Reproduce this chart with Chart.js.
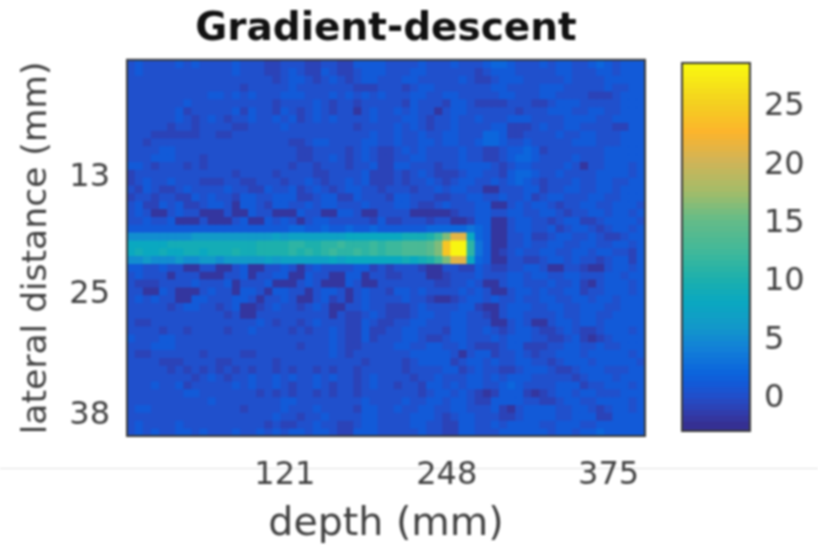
<!DOCTYPE html>
<html>
<head>
<meta charset="utf-8">
<title>Gradient-descent</title>
<script src="https://cdn.jsdelivr.net/npm/chart.js@4"></script>
<style>
  html, body { margin: 0; padding: 0; background: #fff; }
  #wrap { position: relative; width: 818px; height: 545px; overflow: hidden; }
  canvas { position: absolute; top: 0; filter: blur(0.9px); }
  #heat { left: 0; }
  #cbar { left: 660px; }
</style>
</head>
<body>
<div id="wrap">
  <canvas id="heat" width="818" height="545"></canvas>
  <canvas id="cbar" width="158" height="545"></canvas>
</div>
<script>
// --- DATA ---
const depthLabels = [0,6,13,19,25,32,38,44,51,57,64,70,76,83,89,95,102,108,114,121,127,133,140,146,152,159,165,171,178,184,191,197,203,210,216,222,229,235,241,248,254,260,267,273,279,286,292,298,305,311,318,324,330,337,343,349,356,362,368,375,381,387,394,400];
const depthTicks = [121, 248, 375];
const lateralTicks = [12.5, 25, 37.8];
const colorbarTicks = [0, 5, 10, 15, 20, 25];
const colorbarRange = [-2.75, 28.75];

// one row per lateral position, top to bottom: depth columns 0-32
const fieldNear = [
[0,1,0,0,0,0,1,0,1,0,0,0,0,1,0,0,0,-1,-1,0,0,0,-1,-1,0,0,-1,-1,1,1,1,1,0],
[0,1,0,0,0,0,0,0,0,0,0,0,0,1,0,0,0,-1,-1,0,1,0,-1,-1,1,0,-1,-1,0,1,1,1,0],
[0,0,0,0,0,0,0,0,0,0,0,0,0,0,0,0,0,0,-1,0,1,1,0,-1,0,1,0,-1,0,1,1,0,0],
[0,0,0,0,0,0,0,0,0,0,0,0,0,0,-1,0,0,0,0,0,1,0,0,0,0,0,0,0,-1,-1,-1,0,0],
[0,0,0,0,0,0,0,0,0,0,1,1,0,1,0,1,0,0,0,1,1,1,0,0,0,1,0,1,0,1,0,1,0],
[0,0,0,0,0,0,0,1,0,0,0,0,0,0,0,0,0,0,-1,0,0,0,0,1,0,-1,0,0,-1,0,0,0,0],
[0,0,0,0,0,0,1,-1,0,0,0,0,0,1,-1,1,0,0,-1,1,0,-1,0,1,0,-1,0,0,-2,0,1,0,0],
[0,0,0,0,0,0,1,0,-1,0,1,0,-1,0,0,1,0,0,1,0,1,-1,0,1,0,1,0,0,0,0,1,0,0],
[0,0,0,0,0,-1,0,0,-1,0,0,0,0,-1,-1,0,0,0,0,1,0,0,0,0,0,0,0,0,-1,0,0,0,0],
[0,0,0,-1,-1,-1,-1,-1,-1,0,0,-1,-1,0,0,0,0,0,0,0,0,0,0,0,0,0,0,0,0,0,1,0,0],
[0,0,-1,0,0,0,0,0,0,0,0,0,0,0,0,0,0,0,0,0,-1,-1,0,1,1,0,0,0,0,1,1,0,0],
[0,0,0,0,1,1,0,0,0,0,0,0,0,0,0,0,0,0,0,0,0,-1,-1,0,0,0,0,-1,0,1,0,-1,-1],
[0,0,0,1,1,1,0,0,0,-1,0,0,0,0,0,0,0,0,0,0,0,-1,-1,0,0,1,0,-1,0,1,0,-1,-1],
[1,1,0,-1,0,0,0,-1,0,-1,0,0,0,0,0,0,0,0,0,0,-1,0,0,-1,0,0,0,-1,0,0,1,-1,-1],
[-1,0,0,0,0,0,0,0,0,0,0,0,0,-1,0,0,0,0,-1,0,0,0,0,-1,-1,0,0,0,0,1,-1,-1,-1],
[-1,0,1,0,0,1,0,0,0,-1,-1,-1,0,0,-1,-1,0,0,0,-1,0,0,1,0,-1,0,0,1,0,1,-1,-1,-1],
[0,-1,1,0,-1,-1,0,1,0,0,0,0,1,0,0,-1,-1,1,0,0,1,-1,0,1,0,-1,0,1,1,0,0,-1,0],
[-1,0,0,-1,0,0,-1,-1,1,0,1,0,0,-1,1,1,0,0,1,1,1,-1,-1,0,1,1,-1,-1,1,0,0,0,-1],
[0,1,-1,-1,1,0,1,-1,-1,0,1,1,0,-2,1,1,0,-1,1,1,0,0,1,0,1,1,0,0,0,1,0,0,0],
[0,1,0,-2,-2,0,1,0,0,-2,-2,-2,0,-2,-2,1,0,0,-2,-2,-2,1,0,0,-2,-2,1,1,0,-2,-2,0,0],
[0,0,1,0,0,1,-2,-2,-2,0,-2,-2,-2,0,1,-2,-2,1,0,1,0,-2,0,1,1,0,0,0,0,0,-1,1,-1],
[1,1,1,1,1,1,1,1,1,1,1,1,1,1,1,1,1,1,1,1,2,2,1,1,2,1,1,2,1,1,2,1,1],
[5,5,5,5,5,5,5,5,6,6,6,6,6,6,6,6,6,6,7,6,7,7,7,7,7,7,7,8,8,8,8,8,8],
[8,8,8,8,8,9,9,9,9,9,9,9,9,9,9,9,10,10,10,10,11,11,10,10,11,11,12,11,11,11,12,11,12],
[8,9,8,8,9,8,8,9,9,8,9,9,9,10,9,9,10,10,10,10,11,10,11,10,11,12,11,11,12,11,12,11,12],
[5,5,6,5,5,5,6,5,5,6,6,5,6,6,6,6,6,7,6,7,7,7,7,7,7,8,7,8,8,8,8,8,8],
[1,1,0,0,1,0,0,-2,-2,0,0,-2,-2,0,1,-2,-2,0,0,1,0,-2,0,1,0,0,0,0,1,1,-1,0,-1],
[0,1,0,0,0,-2,0,0,0,-2,-2,-2,0,0,1,-2,0,0,1,1,-2,-2,1,0,0,-2,-2,1,1,-2,0,0,-1],
[0,-1,-1,-1,0,0,0,0,1,0,0,0,1,-2,0,0,0,1,-2,-2,-2,0,1,0,-2,-2,-2,1,0,-2,-2,0,0],
[0,0,-2,-2,1,0,-2,-2,-2,0,1,0,0,-2,1,1,0,-2,1,1,0,0,-2,0,1,1,0,-2,0,1,0,0,-1],
[0,1,0,1,0,0,-2,-2,1,1,0,0,0,1,1,0,-2,0,0,1,0,-2,-2,0,1,-1,0,-2,0,1,0,0,0],
[0,0,0,0,0,-1,0,1,1,0,0,-1,0,1,-2,-2,-1,0,1,0,0,-1,0,1,0,-2,-2,0,0,1,0,0,-1],
[0,0,0,0,0,0,0,0,0,0,0,0,-1,0,-2,-2,0,0,0,0,0,0,0,0,0,-2,0,-1,-1,0,1,0,-1],
[0,-1,-1,0,0,0,0,0,0,0,0,0,0,0,0,0,1,0,-1,0,0,-1,0,1,0,0,0,-1,-1,1,0,-1,-1],
[0,0,0,0,-1,0,0,-1,0,0,0,0,-1,0,0,1,0,0,0,0,-1,0,-1,0,0,1,0,-1,-1,1,-1,-1,0],
[1,0,0,0,1,1,0,0,0,0,0,0,0,0,0,0,0,0,0,0,0,0,0,0,0,1,0,-1,-1,1,-1,0,0],
[0,0,0,1,1,1,0,0,0,0,0,0,0,0,0,0,0,0,0,0,0,-1,0,0,0,1,0,-1,-1,0,0,0,0],
[0,-1,-1,0,0,0,0,0,0,-1,0,0,0,0,-1,-1,0,0,0,0,0,0,0,0,0,1,0,-1,0,0,0,0,0],
[0,0,0,0,-1,-1,-1,0,0,0,0,-1,-1,0,0,0,0,0,-1,0,0,0,0,0,0,0,0,0,0,-1,0,0,0],
[0,0,0,0,0,-1,0,-1,0,-1,0,-1,0,-1,0,-1,0,0,-1,0,-1,0,0,-1,0,-1,0,0,-1,0,0,0,0],
[0,0,0,0,0,0,0,0,-1,0,1,0,-1,0,0,1,0,0,1,0,1,0,0,1,0,1,0,0,-1,0,1,0,0],
[0,0,0,1,0,0,1,-1,0,0,0,0,0,1,0,1,0,0,1,0,-1,0,0,1,0,-1,0,0,-1,0,1,0,0],
[0,0,0,0,0,0,0,1,1,0,0,0,0,0,0,0,-1,0,-1,0,-1,0,0,-1,0,-1,0,0,-1,0,0,0,0],
[0,0,0,0,0,0,0,0,0,0,1,0,0,0,0,0,0,0,0,1,1,0,0,0,0,0,0,0,0,1,0,0,0],
[0,1,1,0,0,0,0,0,0,0,0,0,0,0,-1,0,0,0,0,1,0,0,0,1,0,0,0,0,-1,1,1,0,0],
[0,0,0,0,0,0,0,0,0,0,0,0,0,0,0,0,0,0,1,0,0,-1,0,0,1,0,0,0,0,1,1,0,0],
[0,1,0,0,0,0,1,0,0,0,0,0,0,0,0,0,0,-1,0,-1,-1,0,0,1,0,0,-1,-1,0,1,1,0,0],
[0,1,0,1,0,0,1,1,0,1,0,0,0,1,0,0,1,0,1,0,1,1,0,1,1,0,-1,-1,1,1,1,0,0]
];

// same rows: depth columns 33-63
const fieldFar = [
[0,0,0,1,0,0,0,1,0,0,0,1,2,2,1,0,0,0,1,0,1,1,0,0,1,2,1,0,1,1,1],
[0,0,1,1,0,0,0,0,0,0,-1,0,1,1,1,0,0,0,0,0,1,1,0,0,0,1,1,0,1,1,1],
[0,1,1,0,0,0,0,0,1,0,-1,-1,0,1,1,1,0,0,0,0,0,1,0,0,0,0,1,1,1,1,1],
[0,-1,0,1,1,0,0,0,0,0,0,0,1,1,0,0,0,0,1,1,1,0,0,0,0,0,1,0,0,1,1],
[0,0,1,1,0,0,1,1,0,0,0,0,0,1,1,0,0,0,1,1,0,0,0,0,-1,-1,-1,0,1,1,1],
[0,-1,1,0,0,0,-1,1,1,0,-1,-1,-1,-1,0,0,0,-1,-1,0,1,1,1,0,0,0,0,0,1,1,1],
[1,0,1,0,0,-2,0,1,1,0,0,0,0,0,0,-1,0,0,0,1,1,1,0,0,1,1,0,0,1,1,1],
[0,1,1,0,-1,0,0,1,0,0,1,0,0,0,1,1,1,0,0,0,0,1,1,1,1,0,0,1,1,1,1],
[1,0,1,0,-1,0,0,1,0,0,0,0,1,1,-1,-1,-1,0,1,0,0,1,1,0,0,0,0,-1,-1,1,1],
[1,0,0,1,0,0,1,1,0,0,0,2,2,1,-1,-1,0,0,0,0,1,0,0,1,1,0,0,0,1,1,1],
[1,0,0,1,1,0,1,1,0,0,1,2,2,1,0,0,1,0,0,0,0,0,1,1,1,0,0,0,1,1,1],
[0,1,0,1,0,0,0,0,1,0,0,-1,-1,0,1,1,2,1,-1,0,0,0,0,0,0,0,1,1,1,1,1],
[0,0,1,1,0,0,0,0,1,0,0,-1,-1,0,1,2,2,1,0,0,0,0,1,0,0,0,1,1,1,1,1],
[1,1,0,0,0,-1,0,0,1,1,1,1,0,-1,0,1,1,0,0,0,0,1,0,-2,0,0,1,1,1,0,1],
[0,-1,0,1,0,-1,-1,-1,0,1,1,0,0,-1,1,2,2,1,0,0,1,0,0,0,0,1,1,1,1,0,1],
[0,-1,0,0,1,0,-1,0,1,1,0,0,1,0,1,2,1,0,-1,0,0,0,1,0,0,1,1,0,0,1,1],
[0,0,-1,0,0,1,0,1,1,0,0,-2,-2,0,0,0,1,1,-1,0,0,1,1,0,0,1,1,0,1,1,1],
[1,1,0,0,0,-1,-1,0,0,1,1,0,0,1,0,0,1,-1,0,1,1,0,0,0,1,1,0,0,1,1,1],
[1,1,0,-1,-1,0,1,0,0,0,1,1,-2,-2,0,1,0,1,1,0,-1,0,0,1,1,0,0,1,1,1,0],
[0,0,-2,-2,-2,-2,-2,-1,0,0,1,1,0,0,1,1,0,0,1,1,0,-1,0,0,1,1,0,1,1,0,1],
[-1,0,0,0,-1,0,0,-2,-2,-1,1,1,-2,-2,0,1,1,0,0,-1,0,1,1,-1,-1,0,1,1,1,1,0],
[1,1,1,1,2,2,2,2,2,3,2,1,-2,-2,0,1,1,0,0,1,-1,0,1,1,0,-1,0,1,1,0,1],
[8,9,9,9,10,12,16,21,21,8,2,1,-2,-2,0,0,1,-1,-1,0,1,1,0,0,1,0,-1,-1,0,1,1],
[12,13,13,13,14,16,24,28,28,11,3,1,-2,-2,0,0,1,0,0,1,1,0,0,1,1,0,0,1,1,0,1],
[12,13,13,13,14,16,24,28,28,11,3,1,-2,-1,0,1,0,0,1,1,0,0,1,1,0,1,1,0,0,-1,1],
[8,9,8,9,10,12,16,21,21,8,2,1,-2,-2,0,0,-1,-1,0,1,1,0,1,0,0,-1,0,1,1,-1,1],
[0,0,0,-1,-2,-2,0,0,-1,-1,1,0,-1,-1,0,0,1,1,0,-2,-2,0,0,-1,-2,-2,0,1,1,0,1],
[-1,0,0,0,-2,-2,-1,0,0,0,1,0,0,0,1,1,0,1,1,0,0,1,1,0,0,0,1,1,0,1,1],
[0,0,0,0,0,-1,-1,0,0,1,0,-2,-2,0,1,1,0,0,0,1,0,0,1,-1,-2,0,1,1,1,0,1],
[1,1,0,1,0,0,0,0,1,0,1,0,-2,-2,0,1,1,0,1,0,0,1,1,-1,0,0,1,1,1,0,1],
[0,1,0,0,-1,-2,-2,-1,0,1,1,0,1,0,0,1,0,0,1,1,0,0,1,1,0,1,1,0,1,1,1],
[-1,-1,0,1,0,0,0,0,1,1,-1,-2,-2,0,1,1,1,0,0,1,1,0,0,1,1,1,0,0,1,1,1],
[-1,-1,0,1,1,0,0,1,1,0,0,-1,-2,0,1,1,0,0,0,0,1,0,0,1,1,0,0,1,1,1,1],
[0,0,1,1,0,0,0,1,1,0,0,0,-2,-2,0,1,0,-2,-2,0,1,1,0,1,1,0,1,1,1,1,1],
[0,1,1,0,0,0,-1,1,1,0,0,1,0,-1,0,1,1,0,-1,-1,0,1,0,-1,-1,0,1,1,1,0,1],
[0,1,1,0,-1,-1,0,1,1,0,0,0,1,0,1,1,1,0,0,-1,-1,0,1,-1,-2,-1,0,1,1,1,1],
[1,1,0,0,1,1,0,0,1,0,-1,-1,-1,0,1,1,-1,-1,-1,0,0,1,1,0,0,1,0,0,1,1,1],
[0,0,1,1,1,1,1,0,-2,0,1,1,-1,0,0,1,0,-1,0,0,1,1,1,0,1,1,1,1,1,0,1],
[0,-1,0,1,1,1,1,-1,0,1,1,0,1,0,0,1,1,0,0,-1,0,1,1,1,0,1,1,1,1,1,0],
[0,-1,0,0,0,0,1,1,-1,0,1,0,0,-1,-1,0,1,1,1,0,-1,-1,0,1,1,1,0,0,0,1,1],
[0,0,-1,0,0,1,0,0,0,1,1,0,1,0,1,1,1,0,0,0,0,0,-1,0,1,1,1,0,1,1,1],
[-1,0,0,-1,1,1,0,1,0,1,1,0,0,1,2,1,0,0,0,0,1,1,1,-1,0,0,1,1,1,0,1],
[0,0,0,-1,0,1,1,0,1,0,-1,-2,-1,1,1,1,-1,-2,-1,0,1,1,0,1,1,0,0,0,1,1,1],
[0,1,0,0,1,1,0,1,1,0,-1,-1,1,1,1,1,0,0,-1,-1,0,1,1,0,0,1,1,1,1,0,1],
[1,0,0,1,1,0,0,1,1,0,0,0,1,-1,-2,0,1,1,1,1,0,0,1,1,0,-1,0,1,1,0,1],
[0,0,1,1,1,0,-1,0,1,1,0,0,0,-1,-1,0,1,1,1,1,0,0,1,1,1,-1,-1,1,1,1,1],
[0,0,1,1,0,0,-1,-1,1,1,0,0,1,0,1,1,1,1,0,0,1,1,1,0,0,1,1,1,1,1,1],
[0,0,0,1,0,0,-1,-1,1,1,0,0,0,1,1,1,1,1,1,0,1,1,0,1,1,2,1,1,1,1,1]
];

// colour scale
const colorValues = [-3, -2, -1, 0, 1, 2, 4, 6, 8, 10, 12, 14, 15, 17.5, 20, 22.5, 25, 28.5];
const colorHexes = ['#352a87', '#34369f', '#2b43b8', '#2050cc', '#125ad8', '#0c66dc', '#1280d8', '#129ac8', '#0aa8c0', '#1db0ac', '#3cb89c', '#58ba8e', '#64bc88', '#a5bc68', '#d0b458', '#fcb42c', '#f4d020', '#f9fb0e'];

const field = fieldNear.map((row, r) => row.concat(fieldFar[r]));

function hexToRgb(hex) {
    return [1, 3, 5].map(i => parseInt(hex.slice(i, i + 2), 16));
}

function colorOf(v) {
    let i = 0;
    while (i < colorValues.length - 2 && v > colorValues[i + 1]) i++;
    const t = Math.max(0, Math.min(1, (v - colorValues[i]) / (colorValues[i + 1] - colorValues[i])));
    const a = hexToRgb(colorHexes[i]);
    const b = hexToRgb(colorHexes[i + 1]);
    return 'rgb(' + a.map((c, k) => Math.round(c + (b[k] - c) * t)).join(',') + ')';
}

const textColor = '#404040';
const fontFamily = '"DejaVu Sans", sans-serif';

// frame round the plot area
const framePlugin = {
    id: 'frame',
    beforeDatasetsDraw(chart) {
        const a = chart.chartArea;
        chart.ctx.fillStyle = '#2050cc';
        chart.ctx.fillRect(a.left, a.top, a.right - a.left, a.bottom - a.top);
    },
    afterDatasetsDraw(chart) {
        const a = chart.chartArea;
        chart.ctx.strokeStyle = '#3a3a3a';
        chart.ctx.lineWidth = 2;
        chart.ctx.strokeRect(a.left, a.top, a.right - a.left, a.bottom - a.top);
    }
};

// faint page rule under the axes
const pageRule = {
    id: 'pageRule',
    beforeDraw(chart) {
        chart.ctx.fillStyle = '#e0e0e0';
        chart.ctx.fillRect(0, 468, chart.width, 1);
    }
};

// --- HEATMAP ---
const rowCount = field.length;
const rowEdge = r => r * 40 / rowCount;

new Chart(document.getElementById('heat').getContext('2d'), {
    type: 'bar',
    data: {
        labels: depthLabels,
        datasets: field.map((row, r) => ({
            data: row.map(() => [rowEdge(r), rowEdge(r + 1)]),
            backgroundColor: row.map(colorOf),
            borderWidth: 0
        }))
    },
    options: {
        responsive: false,
        animation: false,
        grouped: false,
        barPercentage: 1,
        categoryPercentage: 1,
        layout: { padding: { right: 173, top: 0, bottom: 0, left: 16 } },
        plugins: {
            legend: { display: false },
            tooltip: { enabled: false },
            title: {
                display: true,
                text: 'Gradient-descent',
                fullSize: false,
                color: '#111',
                font: { family: fontFamily, size: 39, weight: 'bold' },
                padding: { top: 6, bottom: 7 }
            }
        },
        scales: {
            x: {
                type: 'category',
                grid: { display: false, drawTicks: false },
                border: { display: false },
                afterFit(scale) { scale.height = 109; },
                ticks: {
                    autoSkip: false,
                    maxRotation: 0,
                    padding: 20,
                    color: textColor,
                    font: { family: fontFamily, size: 32 },
                    callback(value) {
                        const label = depthLabels[value];
                        return depthTicks.includes(label) ? String(label) : '';
                    }
                },
                title: {
                    display: true,
                    text: 'depth (mm)',
                    color: textColor,
                    font: { family: fontFamily, size: 39.5 },
                    padding: { top: 0, bottom: -3 }
                }
            },
            y: {
                type: 'linear',
                reverse: true,
                min: 0,
                max: 40,
                grid: { display: false, drawTicks: false },
                border: { display: false },
                afterFit(scale) { scale.width = 111; },
                afterBuildTicks(scale) { scale.ticks = lateralTicks.map(v => ({ value: v })); },
                ticks: {
                    padding: 17,
                    color: textColor,
                    font: { family: fontFamily, size: 32 },
                    callback: v => String(Math.round(v))
                },
                title: {
                    display: true,
                    text: 'lateral distance (mm)',
                    color: textColor,
                    font: { family: fontFamily, size: 34.5 },
                    padding: 0
                }
            }
        }
    },
    plugins: [pageRule, framePlugin]
});

// --- COLOUR BAR ---
const barStep = (colorbarRange[1] - colorbarRange[0]) / 64;
const barLevels = Array.from({ length: 64 }, (_, i) => colorbarRange[0] + i * barStep);

new Chart(document.getElementById('cbar').getContext('2d'), {
    type: 'bar',
    data: {
        labels: ['colour'],
        datasets: barLevels.map(v => ({
            data: [[v, v + barStep * 1.6]],   // overlap so no seams show
            backgroundColor: colorOf(v + barStep / 2),
            borderWidth: 0
        }))
    },
    options: {
        responsive: false,
        animation: false,
        grouped: false,
        barPercentage: 1,
        categoryPercentage: 1,
        layout: { padding: { left: 22, top: 63, bottom: 114, right: 0 } },
        plugins: { legend: { display: false }, tooltip: { enabled: false } },
        scales: {
            x: { display: false },
            y: {
                type: 'linear',
                position: 'right',
                min: colorbarRange[0],
                max: colorbarRange[1],
                grid: { display: false, drawTicks: false },
                border: { display: false },
                afterFit(scale) { scale.width = 68; },
                afterBuildTicks(scale) { scale.ticks = colorbarTicks.map(v => ({ value: v })); },
                ticks: {
                    padding: 14,
                    color: textColor,
                    font: { family: fontFamily, size: 32 }
                }
            }
        }
    },
    plugins: [framePlugin]
});
</script>
</body>
</html>
